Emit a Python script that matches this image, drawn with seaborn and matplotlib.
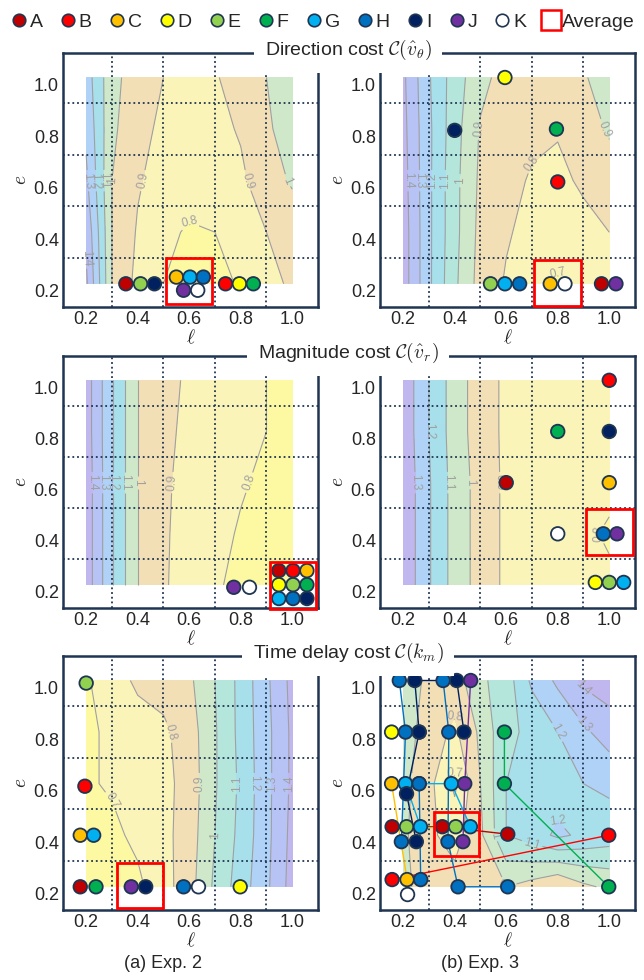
import numpy as np
import pandas as pd
import matplotlib
matplotlib.use('Agg')
import matplotlib.pyplot as plt
import seaborn as sns
from matplotlib.lines import Line2D
from matplotlib.patches import Rectangle
from matplotlib.ticker import FixedLocator
from matplotlib.transforms import ScaledTranslation

# Participants and colours
PARTICIPANTS = ['A', 'B', 'C', 'D', 'E', 'F', 'G', 'H', 'I', 'J', 'K']
COLORS = ['#C00000', '#FF0000', '#FFC000', '#FFFF00', '#92D050', '#00B050',
          '#00B0F0', '#0070C0', '#002060', '#7030A0', '#FFFFFF']
NAVY = '#1f3552'

# Sampling grid of the cost surfaces (rows = e, columns = ell)
ELL_GRID = [0.2, 0.3, 0.4, 0.5, 0.6, 0.7, 0.8, 0.9, 1.0]
E_GRID = [0.2, 0.4, 0.6, 0.8, 1.0]

DIR2_COST = [[1.42, 1.00, 0.87, 0.80, 0.76, 0.77, 0.81, 0.86, 0.92],
             [1.38, 1.00, 0.89, 0.82, 0.79, 0.80, 0.84, 0.90, 0.95],
             [1.32, 1.00, 0.91, 0.86, 0.84, 0.85, 0.88, 0.96, 1.01],
             [1.28, 1.02, 0.93, 0.88, 0.86, 0.87, 0.91, 0.99, 1.03],
             [1.25, 1.03, 0.95, 0.90, 0.87, 0.89, 0.95, 1.00, 1.04]]
DIR3_COST = [[1.45, 1.22, 1.02, 0.86, 0.79, 0.74, 0.69, 0.71, 0.76],
             [1.45, 1.22, 1.03, 0.87, 0.81, 0.77, 0.74, 0.76, 0.80],
             [1.44, 1.22, 1.03, 0.88, 0.83, 0.79, 0.77, 0.82, 0.86],
             [1.43, 1.22, 1.04, 0.89, 0.85, 0.82, 0.81, 0.86, 0.91],
             [1.42, 1.21, 1.05, 0.93, 0.86, 0.85, 0.84, 0.89, 0.95]]
MAG2_COST = [[1.46, 1.21, 1.00, 0.91, 0.86, 0.81, 0.78, 0.75, 0.73],
             [1.46, 1.21, 1.00, 0.91, 0.87, 0.83, 0.79, 0.76, 0.74],
             [1.46, 1.21, 1.00, 0.91, 0.88, 0.84, 0.81, 0.78, 0.76],
             [1.45, 1.21, 1.00, 0.92, 0.88, 0.85, 0.82, 0.80, 0.77],
             [1.45, 1.21, 1.00, 0.92, 0.89, 0.86, 0.83, 0.80, 0.77]]
MAG3_COST = [[1.38, 1.21, 1.06, 0.96, 0.88, 0.86, 0.85, 0.84, 0.83],
             [1.38, 1.21, 1.06, 0.96, 0.88, 0.86, 0.85, 0.83, 0.78],
             [1.38, 1.21, 1.06, 0.96, 0.88, 0.86, 0.85, 0.84, 0.84],
             [1.37, 1.20, 1.05, 0.95, 0.88, 0.86, 0.85, 0.85, 0.85],
             [1.37, 1.20, 1.05, 0.95, 0.88, 0.86, 0.85, 0.85, 0.85]]
TIME2_COST = [[0.65, 0.66, 0.68, 0.76, 0.86, 1.02, 1.15, 1.28, 1.44],
              [0.66, 0.68, 0.72, 0.77, 0.85, 1.00, 1.13, 1.27, 1.43],
              [0.69, 0.71, 0.74, 0.77, 0.84, 0.99, 1.12, 1.27, 1.42],
              [0.68, 0.72, 0.75, 0.78, 0.85, 0.99, 1.13, 1.27, 1.42],
              [0.69, 0.75, 0.82, 0.84, 0.88, 1.00, 1.13, 1.28, 1.43]]
TIME3_COST = [[0.92, 0.86, 0.84, 0.87, 0.90, 0.86, 0.80, 0.88, 0.92],
              [0.92, 0.82, 0.76, 0.88, 1.10, 1.15, 1.22, 1.18, 1.15],
              [0.93, 0.83, 0.68, 0.90, 1.10, 1.12, 1.15, 1.20, 1.22],
              [0.95, 0.85, 0.78, 0.92, 1.08, 1.12, 1.20, 1.28, 1.35],
              [0.95, 0.88, 0.85, 0.98, 1.05, 1.22, 1.32, 1.42, 1.45]]

# Chosen (ell, e) per participant, as placed in each panel
DIR2_WHO = ['A', 'E', 'I', 'C', 'G', 'H', 'J', 'K', 'B', 'D', 'F']
DIR2_ELL = [0.354, 0.411, 0.465, 0.550, 0.603, 0.655, 0.578, 0.633, 0.741, 0.795, 0.849]
DIR2_E = [0.2, 0.2, 0.2, 0.226, 0.226, 0.226, 0.175, 0.175, 0.2, 0.2, 0.2]
DIR2_AVG = [0.51, 0.12, 0.69, 0.30]

DIR3_WHO = ['D', 'I', 'F', 'B', 'E', 'G', 'H', 'C', 'K', 'A', 'J']
DIR3_ELL = [0.595, 0.40, 0.795, 0.80, 0.539, 0.595, 0.652, 0.771, 0.828, 0.97, 1.026]
DIR3_E = [1.0, 0.795, 0.80, 0.595, 0.2, 0.2, 0.2, 0.2, 0.2, 0.2, 0.2]
DIR3_AVG = [0.706, 0.113, 0.889, 0.294]

MAG2_WHO = ['J', 'K', 'A', 'B', 'C', 'D', 'E', 'F', 'G', 'H', 'I']
MAG2_ELL = [0.773, 0.834, 0.948, 1.003, 1.057, 0.948, 1.003, 1.057, 0.948, 1.003, 1.057]
MAG2_E = [0.191, 0.191, 0.256, 0.256, 0.256, 0.201, 0.201, 0.201, 0.147, 0.147, 0.147]
MAG2_AVG = [0.913, 0.108, 1.092, 0.291]

MAG3_WHO = ['B', 'F', 'I', 'A', 'C', 'K', 'H', 'J', 'D', 'E', 'G']
MAG3_ELL = [1.0, 0.8, 1.0, 0.6, 1.0, 0.8, 0.977, 1.03, 0.946, 1.0, 1.056]
MAG3_E = [1.0, 0.8, 0.8, 0.6, 0.6, 0.4, 0.4, 0.4, 0.21, 0.21, 0.21]
MAG3_AVG = [0.909, 0.318, 1.091, 0.497]

TIME2_WHO = ['E', 'B', 'C', 'G', 'A', 'F', 'J', 'I', 'H', 'K', 'D']
TIME2_ELL = [0.2, 0.195, 0.177, 0.229, 0.177, 0.238, 0.375, 0.431, 0.578, 0.636, 0.798]
TIME2_E = [0.99, 0.59, 0.4, 0.4, 0.2, 0.2, 0.2, 0.2, 0.2, 0.2, 0.2]
TIME2_AVG = [0.319, 0.118, 0.497, 0.293]

# Exp. 3 time delay: points are joined in order within each path
TIME3_PATH = ['B', 'B', 'F', 'F', 'F', 'A', 'A', 'A', 'C', 'C', 'D',
              'E', 'E', 'G1', 'G1', 'G2', 'G2', 'G2',
              'H1', 'H1', 'H1', 'H2', 'H2', 'H2', 'H2', 'H2', 'H3', 'H3',
              'I1', 'I1', 'I1', 'I1', 'I2', 'I2', 'I2',
              'J', 'J', 'J', 'K']
TIME3_ELL = [0.157, 0.998, 0.593, 0.593, 0.998, 0.157, 0.352, 0.606, 0.155, 0.215, 0.155,
             0.213, 0.404, 0.209, 0.267, 0.262, 0.387, 0.461,
             0.185, 0.209, 0.193, 0.355, 0.377, 0.374, 0.413, 0.606, 0.262, 0.268,
             0.262, 0.245, 0.408, 0.436, 0.262, 0.213, 0.251,
             0.462, 0.439, 0.432, 0.217]
TIME3_E = [0.228, 0.40, 0.80, 0.60, 0.20, 0.433, 0.433, 0.404, 0.60, 0.228, 0.80,
           0.433, 0.433, 0.60, 0.433, 0.60, 0.60, 0.433,
           1.0, 0.80, 0.375, 1.0, 0.80, 0.375, 0.20, 0.20, 0.60, 0.228,
           0.80, 1.0, 1.0, 0.80, 0.80, 0.561, 0.375,
           1.0, 0.60, 0.375, 0.17]
TIME3_WHO = ['B', 'B', 'F', 'F', 'F', 'A', 'A', 'A', 'C', 'C', 'D',
             'E', 'E', 'G', 'G', 'H', 'G', 'G',
             'H', 'H', 'H', 'H', 'H', 'H', 'H', 'H', 'H', 'H',
             'I', 'I', 'I', 'I', 'I', 'I', 'I',
             'J', 'J', 'J', 'K']
TIME3_AVG = [0.32, 0.32, 0.494, 0.491]

TITLES = [r'Direction cost $\mathcal{C}(\hat{v}_\theta)$',
          r'Magnitude cost $\mathcal{C}(\hat{v}_r)$',
          r'Time delay cost $\mathcal{C}(k_m)$']
CAPTIONS = ['(a) Exp. 2', '(b) Exp. 3']

# Pastel band colours for the cost surfaces (low -> high)
PASTEL = ['#fcf9a2', '#faf4b8', '#f3dfb6', '#cfe8c9', '#b5e6dc',
          '#a7e0ea', '#b0d2f6', '#b6c3f4', '#c1b7ef']
DROP_ORDER = [4, 7, 5, 1]   # which bands to skip when a panel has fewer levels

W, H = 644, 980
COL_X = [63, 380]
ROW_Y = [(53, 307), (356, 608), (656, 910)]
XLIM = (0.11, 1.10)
YLIM = (0.11, 1.095)


def band_colors(n):
    keep = [i for i in range(len(PASTEL)) if i not in DROP_ORDER[:len(PASTEL) - n]]
    return [PASTEL[i] for i in keep]


def draw_surface(ax, cost):
    z = np.array(cost)
    X, Y = np.meshgrid(ELL_GRID, E_GRID)
    lo = np.floor(z.min() * 10) / 10
    hi = np.ceil(z.max() * 10) / 10
    levels = np.round(np.arange(lo, hi + 0.001, 0.1), 2)
    ax.contourf(X, Y, z, levels=levels, colors=band_colors(len(levels) - 1), zorder=1)
    cs = ax.contour(X, Y, z, levels=levels, colors='#a0a0a0', linewidths=0.8, zorder=1.5)
    ax.clabel(cs, fontsize=8.5, colors='#a0a0a0', fmt=lambda v: f'{v:g}', inline=True)


def style_axes(ax, fig):
    ax.set_xlim(*XLIM)
    ax.set_ylim(*YLIM)
    ax.set_xticks([0.2, 0.4, 0.6, 0.8, 1.0])
    ax.set_yticks([0.2, 0.4, 0.6, 0.8, 1.0])
    ax.set_xticklabels(['0.2', '0.4', '0.6', '0.8', '1.0'])
    ax.set_yticklabels(['0.2', '0.4', '0.6', '0.8', '1.0'])
    ax.xaxis.set_minor_locator(FixedLocator([0.3, 0.5, 0.7, 0.9]))
    ax.yaxis.set_minor_locator(FixedLocator([0.3, 0.5, 0.7, 0.9]))
    ax.tick_params(which='both', length=0, labelsize=13, pad=3)
    ax.set_axisbelow(False)
    ax.grid(False, which='major')
    ax.grid(True, which='minor', color=NAVY, linestyle=(0, (1, 1.6)), linewidth=1.3)
    for s in ax.spines.values():
        s.set_visible(True)
        s.set_color(NAVY)
        s.set_linewidth(1.8)
    # tick labels sit a bit under their tick in the original
    off = ScaledTranslation(0, -5 / 72, fig.dpi_scale_trans)
    for lab in ax.get_yticklabels():
        lab.set_transform(lab.get_transform() + off)
    ax.set_xlabel(r'$\ell$', fontsize=14, labelpad=0)
    ax.set_ylabel(r'$e$', fontsize=14, labelpad=3)


def draw_points(ax, who, ell, e, palette):
    df = pd.DataFrame({'who': who, 'ell': ell, 'e': e})
    sns.scatterplot(data=df, x='ell', y='e', hue='who', palette=palette, s=95,
                    edgecolor=NAVY, linewidth=1.3, legend=False, zorder=5, ax=ax)


def draw_avg(ax, box):
    x0, y0, x1, y1 = box
    ax.add_patch(Rectangle((x0, y0), x1 - x0, y1 - y0, fill=False, edgecolor='#ff0000',
                           linewidth=2.0, zorder=6, clip_on=False))


def main():
    sns.set_theme(style='white')
    plt.rcParams['font.family'] = ['Liberation Sans', 'DejaVu Sans']
    plt.rcParams['mathtext.fontset'] = 'cm'

    palette = dict(zip(PARTICIPANTS, COLORS))

    fig = plt.figure(figsize=(W / 100, H / 100), dpi=100)

    panels = [
        (DIR2_COST, DIR2_WHO, DIR2_ELL, DIR2_E, DIR2_AVG),
        (DIR3_COST, DIR3_WHO, DIR3_ELL, DIR3_E, DIR3_AVG),
        (MAG2_COST, MAG2_WHO, MAG2_ELL, MAG2_E, MAG2_AVG),
        (MAG3_COST, MAG3_WHO, MAG3_ELL, MAG3_E, MAG3_AVG),
        (TIME2_COST, TIME2_WHO, TIME2_ELL, TIME2_E, TIME2_AVG),
        (TIME3_COST, TIME3_WHO, TIME3_ELL, TIME3_E, TIME3_AVG),
    ]

    for i, (cost, who, ell, e, avg) in enumerate(panels):
        row, col = divmod(i, 2)
        top, bot = ROW_Y[row]
        ax = fig.add_axes([COL_X[col] / W, 1 - bot / H, 255 / W, (bot - top) / H])
        draw_surface(ax, cost)
        if i == 5:
            # trajectories for Exp. 3 time delay
            df = pd.DataFrame({'path': TIME3_PATH, 'who': who, 'ell': ell, 'e': e})
            for pid, g in df.groupby('path', sort=False):
                if len(g) > 1:
                    ax.plot(g['ell'], g['e'], color=palette[pid[0]], linewidth=1.0, zorder=4)
        draw_points(ax, who, ell, e, palette)
        draw_avg(ax, avg)
        style_axes(ax, fig)

    # row titles sitting on the top frame, white box hides the frame behind
    for row, title in enumerate(TITLES):
        top = ROW_Y[row][0]
        fig.text(348 / W, 1 - (top - 3) / H, title, ha='center', va='center', fontsize=14,
                 bbox=dict(boxstyle='square,pad=0.55', facecolor='white', edgecolor='none'))

    for col, cap in enumerate(CAPTIONS):
        fig.text((COL_X[col] + 100) / W, 1 - 963 / H, cap, ha='center', va='center', fontsize=13)

    handles = [Line2D([], [], linestyle='none', marker='o', markersize=9,
                      markerfacecolor=c, markeredgecolor=NAVY, markeredgewidth=1.2)
               for c in COLORS]
    handles.append(Line2D([], [], linestyle='none', marker='s', markersize=14,
                          markerfacecolor='white', markeredgecolor='#ff0000', markeredgewidth=1.8))
    fig.legend(handles, PARTICIPANTS + ['Average'], loc='center', ncol=12,
               bbox_to_anchor=(0.5, 1 - 22 / H), frameon=False, fontsize=14,
               handletextpad=0.05, columnspacing=0.8, handlelength=1.0, borderaxespad=0)

    fig.savefig('out.png', dpi=100)
    plt.close(fig)


if __name__ == '__main__':
    main()
